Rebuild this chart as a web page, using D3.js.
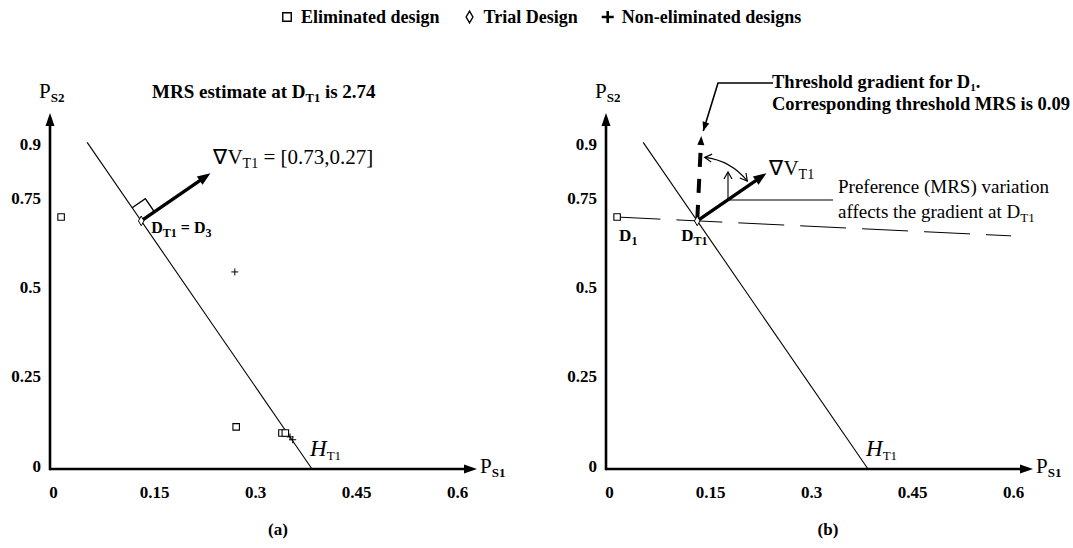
<!DOCTYPE html>
<html>
<head>
<meta charset="utf-8">
<script src="https://cdn.jsdelivr.net/npm/d3@7"></script>
<style>
body { margin: 0; background: #fff; }
svg { display: block; font-family: "Liberation Serif", "Times New Roman", serif; }
text { white-space: pre; fill: #000; }
</style>
</head>
<body>
<svg id="chart" width="1073" height="548"></svg>
<script>

// values
var aXTicks = [0, 0.15, 0.3, 0.45, 0.6];
var aYTicks = [0, 0.25, 0.5, 0.75, 0.9];

var aEliminatedA = [[0.015, 0.706], [0.275, 0.118], [0.343, 0.101], [0.348, 0.101]];
var aTrialA = [[0.134, 0.695]];
var aNonEliminatedA = [[0.273, 0.552], [0.355, 0.090], [0.359, 0.082]];

var aEliminatedB = [[0.015, 0.706]];
var aTrialB = [[0.134, 0.695]];

var aGradient = [0.73, 0.27];
var fMrsEstimate = 2.74;
var fThresholdMrs = 0.09;
var fHyperTop = 0.915;

var aLegendNames = ['Eliminated design', 'Trial Design', 'Non-eliminated designs'];
var aLegendTypes = ['square', 'diamond', 'plus'];


var sSvg = d3.select('#chart');

var nAxisY = 469;
var scaleY = d3.scaleLinear()
	.domain([0, 1])
	.range([nAxisY, 112]);

function MakeScaleX(nOx)
{
	return d3.scaleLinear()
		.domain([0, 0.6])
		.range([nOx + 1, nOx + 405]);
}

function RichText(sParent, nX, nY, aParts, oBase)
{
	var sText = sParent.append('text')
		.attr('x', nX)
		.attr('y', nY)
		.attr('text-anchor', oBase.anchor || 'start')
		.style('font-size', oBase.size + 'px')
		.style('font-weight', oBase.weight || 'normal')
		.style('font-style', oBase.style || 'normal');
	var nShift = 0;
	aParts.forEach(function(part)
	{
		var nTarget = part.shift || 0;
		var sSpan = sText.append('tspan')
			.attr('dy', nTarget - nShift)
			.text(part.t);
		nShift = nTarget;
		if (part.size) sSpan.style('font-size', part.size + 'px');
		if (part.weight) sSpan.style('font-weight', part.weight);
		if (part.style) sSpan.style('font-style', part.style);
	});
	return sText;
}

function ArrowHead(sParent, x1, y1, x2, y2, nLen, nWid, bOpen, nStroke)
{
	var dx = x2 - x1, dy = y2 - y1;
	var d = Math.hypot(dx, dy);
	var ux = dx / d, uy = dy / d;
	var bx = x2 - ux * nLen, by = y2 - uy * nLen;
	var px = -uy * nWid / 2, py = ux * nWid / 2;
	var strPath = 'M' + (bx + px) + ',' + (by + py) + 'L' + x2 + ',' + y2 + 'L' + (bx - px) + ',' + (by - py);
	if (bOpen)
	{
		sParent.append('path').attr('d', strPath)
			.attr('fill', 'none').attr('stroke', '#000').attr('stroke-width', nStroke || 1.2);
	}
	else
	{
		sParent.append('path').attr('d', strPath + 'Z').attr('fill', '#000');
	}
}

function Marker(sParent, strType, x, y, nSize, nStroke)
{
	if (strType == 'plus')
	{
		var h = nSize / 2;
		sParent.append('path')
			.attr('d', 'M' + (x - h) + ',' + y + 'H' + (x + h) + 'M' + x + ',' + (y - h) + 'V' + (y + h))
			.attr('stroke', '#000').attr('stroke-width', nStroke).attr('fill', 'none');
		return;
	}
	var symType = (strType == 'square') ? d3.symbolSquare : d3.symbolDiamond;
	var nArea = (strType == 'square') ? nSize * nSize : nSize * nSize * 0.55;
	sParent.append('path')
		.attr('transform', 'translate(' + x + ',' + y + ')')
		.attr('d', d3.symbol().type(symType).size(nArea)())
		.attr('fill', '#fff').attr('stroke', '#000').attr('stroke-width', nStroke);
}

function DrawAxes(sPanel, nOx, scaleX)
{
	// axis lines with arrows
	sPanel.append('line')
		.attr('x1', nOx).attr('y1', nAxisY).attr('x2', nOx + 415).attr('y2', nAxisY)
		.attr('stroke', '#000').attr('stroke-width', 2.6);
	ArrowHead(sPanel, nOx, nAxisY, nOx + 427, nAxisY, 13, 9, false);
	sPanel.append('line')
		.attr('x1', nOx).attr('y1', nAxisY + 1.3).attr('x2', nOx).attr('y2', 124)
		.attr('stroke', '#000').attr('stroke-width', 2.6);
	ArrowHead(sPanel, nOx, nAxisY, nOx, 113, 13, 9, false);

	var axisX = d3.axisBottom(scaleX)
		.tickValues(aXTicks)
		.tickSize(0)
		.tickPadding(17)
		.tickFormat(function(v) { return String(v); });
	var sAxisX = sPanel.append('g')
		.attr('transform', 'translate(2,' + nAxisY + ')')
		.call(axisX);
	sAxisX.select('.domain').remove();

	var axisY = d3.axisLeft(scaleY)
		.tickValues(aYTicks)
		.tickSize(0)
		.tickPadding(9)
		.tickFormat(function(v) { return String(v); });
	var sAxisY = sPanel.append('g')
		.attr('transform', 'translate(' + nOx + ',0)')
		.call(axisY);
	sAxisY.select('.domain').remove();
	sAxisY.selectAll('text').attr('dy', '0.12em');

	sPanel.selectAll('.tick text')
		.attr('fill', '#000')
		.style('font-family', '"Liberation Serif", serif')
		.style('font-size', '17px')
		.style('font-weight', 'bold');

	RichText(sPanel, nOx + 430, 473, [
		{ t: 'P' },
		{ t: 'S1', size: 13, weight: 'bold', shift: 4 }
	], { size: 21 });

	RichText(sPanel, nOx - 11, 98, [
		{ t: 'P' },
		{ t: 'S2', size: 13, weight: 'bold', shift: 4 }
	], { size: 21 });
}

function DrawHyperplane(sPanel, scaleX, aTrial)
{
	var fX = aTrial[0], fY = aTrial[1];
	var fTopX = fX - (fHyperTop - fY) / fMrsEstimate;
	var fBotX = fX + fY / fMrsEstimate;
	sPanel.append('line')
		.attr('x1', scaleX(fTopX)).attr('y1', scaleY(fHyperTop))
		.attr('x2', scaleX(fBotX)).attr('y2', scaleY(0))
		.attr('stroke', '#000').attr('stroke-width', 1.1);

	RichText(sPanel, scaleX(fBotX) - 2, 456, [
		{ t: 'H', style: 'italic' },
		{ t: 'T1', size: 13, style: 'normal', shift: 4 }
	], { size: 23 });

	// pixel direction of the line, pointing down-right
	var dx = scaleX(fBotX) - scaleX(fTopX), dy = scaleY(0) - scaleY(fHyperTop);
	var d = Math.hypot(dx, dy);
	return [dx / d, dy / d];
}

function DrawGradientArrow(sPanel, x0, y0, aPerp, nLen)
{
	var x2 = x0 + aPerp[0] * nLen, y2 = y0 + aPerp[1] * nLen;
	sPanel.append('line')
		.attr('x1', x0).attr('y1', y0)
		.attr('x2', x2 - aPerp[0] * 8).attr('y2', y2 - aPerp[1] * 8)
		.attr('stroke', '#000').attr('stroke-width', 3.4);
	ArrowHead(sPanel, x0, y0, x2, y2, 13, 10, false);
	return [x2, y2];
}


// legend
var sLegend = sSvg.append('g');
var nLegX = 287;
aLegendNames.forEach(function(strName, i)
{
	var strType = aLegendTypes[i];
	Marker(sLegend, strType, nLegX, 17, strType == 'plus' ? 12 : 8.5, strType == 'plus' ? 2.6 : 1.4);
	var sText = sLegend.append('text')
		.attr('x', nLegX + 14)
		.attr('y', 23)
		.style('font-size', '18px')
		.style('font-weight', 'bold')
		.text(strName);
	nLegX = nLegX + 14 + sText.node().getComputedTextLength() + 30;
});


// ---------- panel (a) ----------
var nOxA = 50;
var scaleXA = MakeScaleX(nOxA);
var sPanelA = sSvg.append('g');

DrawAxes(sPanelA, nOxA, scaleXA);
var aDirA = DrawHyperplane(sPanelA, scaleXA, aTrialA[0]);
var aPerpA = [aDirA[1], -aDirA[0]];
var aUpA = [-aDirA[0], -aDirA[1]];

var nTx = scaleXA(aTrialA[0][0]), nTy = scaleY(aTrialA[0][1]);

// right angle mark
var nSq = 16;
sPanelA.append('path')
	.attr('d', 'M' + (nTx + aUpA[0] * nSq) + ',' + (nTy + aUpA[1] * nSq) +
		'L' + (nTx + aUpA[0] * nSq + aPerpA[0] * nSq) + ',' + (nTy + aUpA[1] * nSq + aPerpA[1] * nSq) +
		'L' + (nTx + aPerpA[0] * nSq) + ',' + (nTy + aPerpA[1] * nSq))
	.attr('fill', 'none').attr('stroke', '#000').attr('stroke-width', 1.4);

var aTipA = DrawGradientArrow(sPanelA, nTx, nTy, aPerpA, 84);

aEliminatedA.forEach(function(p) { Marker(sPanelA, 'square', scaleXA(p[0]), scaleY(p[1]), 6.5, 1.1); });
aNonEliminatedA.forEach(function(p) { Marker(sPanelA, 'plus', scaleXA(p[0]), scaleY(p[1]), 7, 1); });
aTrialA.forEach(function(p) { Marker(sPanelA, 'diamond', scaleXA(p[0]), scaleY(p[1]), 7, 1); });

RichText(sPanelA, aTipA[0] + 3, 164, [
	{ t: '\u2207V' },
	{ t: 'T1', size: 14, shift: 4 },
	{ t: ' = [' + aGradient[0] + ',' + aGradient[1] + ']', shift: 0 }
], { size: 21 });

RichText(sPanelA, nTx + 10, 233, [
	{ t: 'D' },
	{ t: 'T1', size: 12, shift: 4 },
	{ t: ' = D', shift: 0 },
	{ t: '3', size: 12, shift: 4 }
], { size: 16, weight: 'bold' });

RichText(sPanelA, 152, 98, [
	{ t: 'MRS estimate at D' },
	{ t: 'T1', size: 12.5, shift: 4 },
	{ t: ' is ' + fMrsEstimate, shift: 0 }
], { size: 19, weight: 'bold' });

sPanelA.append('text')
	.attr('x', 278).attr('y', 535)
	.attr('text-anchor', 'middle')
	.style('font-size', '17px').style('font-weight', 'bold')
	.text('(a)');


// ---------- panel (b) ----------
var nOxB = 606;
var scaleXB = MakeScaleX(nOxB);
var sPanelB = sSvg.append('g');

DrawAxes(sPanelB, nOxB, scaleXB);
var aDirB = DrawHyperplane(sPanelB, scaleXB, aTrialB[0]);
var aPerpB = [aDirB[1], -aDirB[0]];

var nBx = scaleXB(aTrialB[0][0]), nBy = scaleY(aTrialB[0][1]);

// preference (threshold MRS) line through the trial design
var fPrefX1 = aEliminatedB[0][0] - 0.004;
var fPrefX2 = 0.6;
sPanelB.append('line')
	.attr('x1', scaleXB(fPrefX1)).attr('y1', scaleY(aTrialB[0][1] + fThresholdMrs * (aTrialB[0][0] - fPrefX1)))
	.attr('x2', scaleXB(fPrefX2)).attr('y2', scaleY(aTrialB[0][1] - fThresholdMrs * (fPrefX2 - aTrialB[0][0])))
	.attr('stroke', '#000').attr('stroke-width', 1)
	.attr('stroke-dasharray', '46,16');

// threshold gradient: perpendicular (on screen) to the preference line
var fPx = scaleXB(1) - scaleXB(0), fPy = -fThresholdMrs * (scaleY(0) - scaleY(1));
var fPd = Math.hypot(fPx, fPy);
var aPrefDir = [fPx / fPd, -fPy / fPd];
var aThrDir = [aPrefDir[1], -aPrefDir[0]];
var nThrLen = 85;
var aThrTip = [nBx + aThrDir[0] * nThrLen, nBy + aThrDir[1] * nThrLen];
sPanelB.append('line')
	.attr('x1', aThrTip[0] - aThrDir[0] * 17).attr('y1', aThrTip[1] - aThrDir[1] * 17)
	.attr('x2', nBx).attr('y2', nBy)
	.attr('stroke', '#000').attr('stroke-width', 4)
	.attr('stroke-dasharray', '14,12');
ArrowHead(sPanelB, nBx, nBy, aThrTip[0], aThrTip[1], 9, 7, false);

var aTipB = DrawGradientArrow(sPanelB, nBx, nBy, aPerpB, 84);

// double-headed arc between the two gradients
var nArcR = 64;
var fA1 = Math.atan2(aThrDir[1], aThrDir[0]) + 0.07;
var fA2 = Math.atan2(aPerpB[1], aPerpB[0]) - 0.07;
var aArc1 = [nBx + nArcR * Math.cos(fA1), nBy + nArcR * Math.sin(fA1)];
var aArc2 = [nBx + nArcR * Math.cos(fA2), nBy + nArcR * Math.sin(fA2)];
sPanelB.append('path')
	.attr('d', 'M' + aArc1[0] + ',' + aArc1[1] + 'A' + nArcR + ',' + nArcR + ' 0 0 1 ' + aArc2[0] + ',' + aArc2[1])
	.attr('fill', 'none').attr('stroke', '#000').attr('stroke-width', 1.2);
ArrowHead(sPanelB, aArc1[0] - 6 * Math.sin(fA1), aArc1[1] + 6 * Math.cos(fA1), aArc1[0], aArc1[1], 7, 8, true, 1.2);
ArrowHead(sPanelB, aArc2[0] + 6 * Math.sin(fA2), aArc2[1] - 6 * Math.cos(fA2), aArc2[0], aArc2[1], 7, 8, true, 1.2);

aEliminatedB.forEach(function(p) { Marker(sPanelB, 'square', scaleXB(p[0]), scaleY(p[1]), 6.5, 1.1); });
aTrialB.forEach(function(p) { Marker(sPanelB, 'diamond', scaleXB(p[0]), scaleY(p[1]), 7, 1); });

RichText(sPanelB, aTipB[0] + 3, 175, [
	{ t: '\u2207V' },
	{ t: 'T1', size: 14, shift: 4 }
], { size: 21 });

RichText(sPanelB, scaleXB(aEliminatedB[0][0]) + 2, 241, [
	{ t: 'D' },
	{ t: '1', size: 12, shift: 4 }
], { size: 17, weight: 'bold' });

RichText(sPanelB, nBx - 16, 241, [
	{ t: 'D' },
	{ t: 'T1', size: 12, shift: 4 }
], { size: 17, weight: 'bold' });

// callout: threshold gradient
sPanelB.append('path')
	.attr('d', 'M773,83H718L' + (aThrTip[0] + 2) + ',' + (aThrTip[1] - 5))
	.attr('fill', 'none').attr('stroke', '#000').attr('stroke-width', 1.6);
ArrowHead(sPanelB, 718, 83, aThrTip[0] + 2, aThrTip[1] - 5, 9, 7, false);

RichText(sPanelB, 772, 88, [
	{ t: 'Threshold gradient for D' },
	{ t: '1', size: 11, shift: 3 },
	{ t: '.', shift: 0 }
], { size: 18.5, weight: 'bold' });
sPanelB.append('text')
	.attr('x', 772).attr('y', 110)
	.style('font-size', '18.5px').style('font-weight', 'bold')
	.text('Corresponding threshold MRS is ' + fThresholdMrs);

// callout: preference variation
sPanelB.append('path')
	.attr('d', 'M833,200H728V173')
	.attr('fill', 'none').attr('stroke', '#000').attr('stroke-width', 1.1);
ArrowHead(sPanelB, 728, 200, 728, 172, 7, 8, true, 1.2);

sPanelB.append('text')
	.attr('x', 838).attr('y', 193)
	.style('font-size', '19px')
	.text('Preference (MRS) variation');
RichText(sPanelB, 838, 218, [
	{ t: 'affects the gradient at D' },
	{ t: 'T1', size: 13, shift: 4 }
], { size: 19 });

sPanelB.append('text')
	.attr('x', 828).attr('y', 535)
	.attr('text-anchor', 'middle')
	.style('font-size', '17px').style('font-weight', 'bold')
	.text('(b)');

</script>
</body>
</html>
